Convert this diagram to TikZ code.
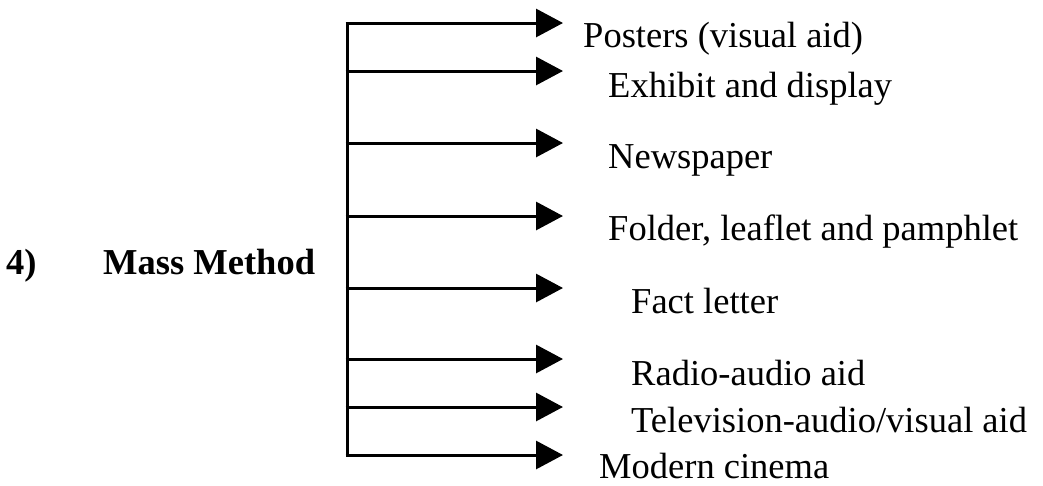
\documentclass[tikz,border=0pt]{standalone}
\usepackage{fontspec}
\setmainfont{Liberation Serif}
\usetikzlibrary{arrows.meta}
\begin{document}
\begin{tikzpicture}[x=1pt,y=-1pt,
  item/.style={anchor=base west,inner sep=0pt,font=\fontsize{36.5}{40}\selectfont},
  head/.style={anchor=base west,inner sep=0pt,font=\fontsize{36.5}{40}\selectfont\bfseries},
  branch/.style={line width=3pt,-{Triangle[length=27pt,width=28pt]}},
  trunk/.style={line width=3pt}]
\useasboundingbox (0,0) rectangle (1043,485);
% trunk coordinates
\coordinate (t1) at (347,23);
\coordinate (t2) at (347,71);
\coordinate (t3) at (347,143);
\coordinate (t4) at (347,216);
\coordinate (t5) at (347,288);
\coordinate (t6) at (347,359);
\coordinate (t7) at (347,407);
\coordinate (t8) at (347,455);
% tips
\coordinate (p1) at (563,23);
\coordinate (p2) at (563,71);
\coordinate (p3) at (563,143);
\coordinate (p4) at (563,216);
\coordinate (p5) at (563,288);
\coordinate (p6) at (563,359);
\coordinate (p7) at (563,407);
\coordinate (p8) at (563,455);
\draw[trunk] ([yshift=-1.5pt]t1) -- ([yshift=1.5pt]t8);
\foreach \i in {1,...,8}{\draw[branch] ([xshift=-1.5pt]t\i) -- (p\i);}
% labels
\node[head] (num) at (6,274) {4)};
\node[head] (mass) at (103,274) {Mass Method};
\node[item] (l1) at (583,47) {Posters (visual aid)};
\node[item] (l2) at (608,97) {Exhibit and display};
\node[item] (l3) at (608,168) {Newspaper};
\node[item] (l4) at (608,240) {Folder, leaflet and pamphlet};
\node[item] (l5) at (631,313) {Fact letter};
\node[item] (l6) at (631,385) {Radio-audio aid};
\node[item] (l7) at (631,432) {Television-audio/visual aid};
\node[item] (l8) at (599,478) {Modern cinema};
\end{tikzpicture}
\end{document}
